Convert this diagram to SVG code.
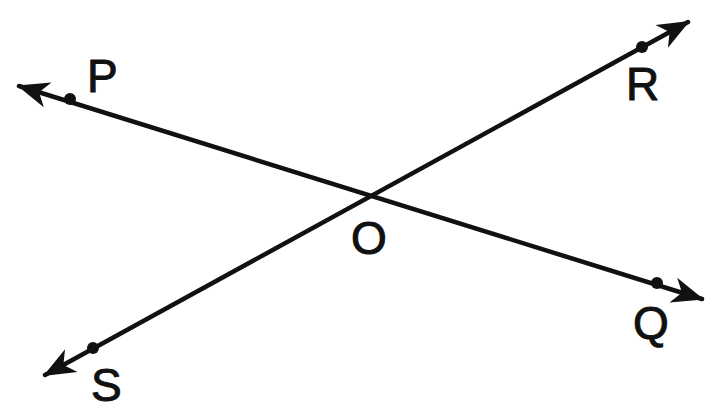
<svg xmlns="http://www.w3.org/2000/svg" width="706" height="410" viewBox="0 0 706 410">
<style>
.ln{stroke:#111;stroke-width:4.5;fill:none;stroke-linecap:round}
.dot{fill:#111}
.lbl{font-family:"Liberation Sans",Arial,sans-serif;font-size:46px;fill:#111;stroke:#111;stroke-width:1}
</style>
<defs>
<marker id="ah" markerUnits="userSpaceOnUse" viewBox="-34 -16 38 32" refX="0" refY="0" markerWidth="38" markerHeight="32" orient="auto-start-reverse">
<path d="M2,0 L-30,-13 L-21,0 L-30,13 Z" fill="#111"/>
</marker>
</defs>
<rect width="706" height="410" fill="#fff"/>
<g id="connectors">
<line id="PQ" class="ln" x1="19" y1="86" x2="702" y2="299" marker-start="url(#ah)" marker-end="url(#ah)"/>
<line id="SR" class="ln" x1="45" y1="375" x2="688" y2="22" marker-start="url(#ah)" marker-end="url(#ah)"/>
</g>
<g id="P"><circle class="dot" cx="70" cy="99" r="6"/><text class="lbl" x="87" y="92">P</text></g>
<g id="Q"><circle class="dot" cx="657" cy="283" r="6"/><text class="lbl" x="633" y="339">Q</text></g>
<g id="R"><circle class="dot" cx="642" cy="47" r="6"/><text class="lbl" x="626" y="100">R</text></g>
<g id="S"><circle class="dot" cx="93" cy="348" r="6"/><text class="lbl" x="91" y="401">S</text></g>
<g id="O"><text class="lbl" x="351" y="254">O</text></g>
</svg>
